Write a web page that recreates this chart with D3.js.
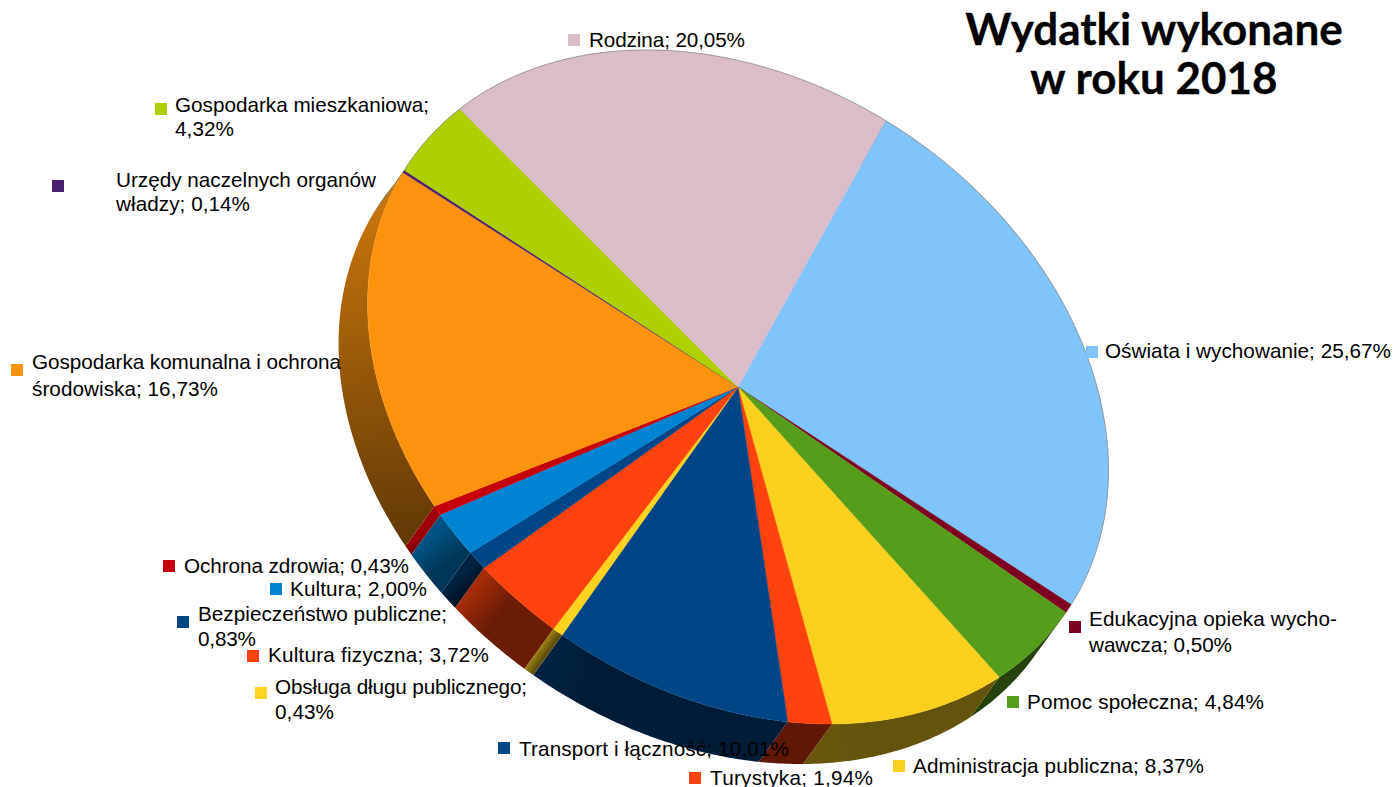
<!DOCTYPE html>
<html>
<head>
<meta charset="utf-8">
<script src="https://cdn.jsdelivr.net/npm/d3@7"></script>
<style>
html,body{margin:0;padding:0;background:#fff;overflow:hidden}
svg{display:block}
</style>
</head>
<body>
<svg id="chart" width="1395" height="787"></svg>
<script>
const categories = ["Oświata i wychowanie","Edukacyjna opieka wychowawcza","Pomoc społeczna","Administracja publiczna","Turystyka","Transport i łączność","Obsługa długu publicznego","Kultura fizyczna","Bezpieczeństwo publiczne","Kultura","Ochrona zdrowia","Gospodarka komunalna i ochrona środowiska","Urzędy naczelnych organów władzy","Gospodarka mieszkaniowa","Rodzina"];
const values = [25.67,0.50,4.84,8.37,1.94,10.01,0.43,3.72,0.83,2.00,0.43,16.73,0.14,4.32,20.05];
const colors = ["#7fc4fb","#7e0021","#579d1c","#f9d01e","#ff420e","#004586","#ffd320","#ff420e","#004586","#0084d1","#c5000b","#fc930f","#4b1f6f","#aecf00","#dbbdc9"];
const labelLines = [
 ["Oświata i wychowanie; 25,67%"],
 ["Edukacyjna opieka wycho-","wawcza; 0,50%"],
 ["Pomoc społeczna; 4,84%"],
 ["Administracja publiczna; 8,37%"],
 ["Turystyka; 1,94%"],
 ["Transport i łączność; 10,01%"],
 ["Obsługa długu publicznego;","0,43%"],
 ["Kultura fizyczna; 3,72%"],
 ["Bezpieczeństwo publiczne;","0,83%"],
 ["Kultura; 2,00%"],
 ["Ochrona zdrowia; 0,43%"],
 ["Gospodarka komunalna i ochrona","środowiska; 16,73%"],
 ["Urzędy naczelnych organów","władzy; 0,14%"],
 ["Gospodarka mieszkaniowa;","4,32%"],
 ["Rodzina; 20,05%"]
];
const titleLines = ["Wydatki wykonane","w roku 2018"];

// Layout only: [square centre x, square centre y, text x, first baseline, line step]
const labelLayout = [
 [1092,352,1105,358,0],[1075,627,1089,626,26],[1013,702,1027,709,0],[899,766,913,773,0],
 [695,778,710,785,0],[504,748,519,756,0],[261,693,275,694,25],[253,656,268,662,0],
 [183,622,198,621,25],[276,589,290,596,0],[169,566,184,573,0],[17,370,32,369,27],
 [58,186,116,187,24],[161,109,175,112,24],[574,40,589,47,0]
];
// Layout only: right end of each text line
const labelEnds = [[1391],[1337,1232],[1264],[1204],[873],[789],[527,334],[489],[447,256],[427],[409],[341,218],[376,250],[429,234],[745]];

const cx = 738, cy = 387, rx = 398, ry = 304, tilt = 34.5 * Math.PI / 180;
const depthX = -29, depthY = 40;
const startPhase = 265.8 * Math.PI / 180;

const svg = d3.select("#chart");
const defs = svg.append("defs");
const pie = d3.pie().sort(null).value(d => d);
const arcs = pie(values);

function project(phi, dx = 0, dy = 0) {
  const t = phi + startPhase;
  const u = rx * Math.cos(t), v = ry * Math.sin(t);
  return [cx + dx + u * Math.cos(tilt) - v * Math.sin(tilt),
          cy + dy + u * Math.sin(tilt) + v * Math.cos(tilt)];
}
function samples(a0, a1) {
  const n = Math.max(2, Math.ceil((a1 - a0) / 0.01));
  return d3.range(n + 1).map(i => a0 + (a1 - a0) * i / n);
}
const line = d3.line();
function shade(col, f) {
  const c = d3.rgb(col);
  return d3.rgb(c.r * f, c.g * f, c.b * f).formatHex();
}

// side walls
const wallLight = [0.62,0.6,0.42,0.42,0.37,0.5,0.62,0.66,0.5,0.62,0.8,0.78,0.5,0.6,0.6];
const wallDark  = [0.4,0.4,0.42,0.4,0.37,0.42,0.38,0.42,0.3,0.42,0.6,0.38,0.4,0.4,0.4];
const wallStop  = [0.5,0.5,0.5,0.5,0.5,0.2,0.8,0.4,0.7,0.6,0.7,1,0.5,0.5,0.5];
arcs.forEach((d, i) => {
  const pts = samples(d.startAngle, d.endAngle);
  const p0 = project(d.startAngle, depthX, depthY), p1 = project(d.endAngle, depthX, depthY);
  const g = defs.append("linearGradient").attr("id", "w" + i)
    .attr("gradientUnits", "userSpaceOnUse")
    .attr("x1", p1[0]).attr("y1", p1[1]).attr("x2", p0[0]).attr("y2", p0[1]);
  g.append("stop").attr("offset", 0).attr("stop-color", shade(colors[i], wallLight[i]));
  g.append("stop").attr("offset", wallStop[i]).attr("stop-color", shade(colors[i], wallDark[i]));
  const poly = pts.map(a => project(a)).concat(pts.slice().reverse().map(a => project(a, depthX, depthY)));
  svg.append("path").attr("d", line(poly) + "Z").attr("fill", `url(#w${i})`);
});

// top faces
arcs.forEach((d, i) => {
  const poly = [[cx, cy]].concat(samples(d.startAngle, d.endAngle).map(a => project(a)));
  svg.append("path").attr("d", line(poly) + "Z")
    .attr("fill", colors[i]).attr("stroke", colors[i]).attr("stroke-width", 0.4);
});

// faint rim on the exposed upper edge
[0, 13, 14].forEach(i => {
  const d = arcs[i];
  svg.append("path").attr("d", line(samples(d.startAngle, d.endAngle).map(a => project(a))))
    .attr("fill", "none").attr("stroke", "#9a9a9a").attr("stroke-width", 0.9);
});

// labels
arcs.forEach((d, i) => {
  const [sx, sy, tx, ty, step] = labelLayout[i];
  svg.append("rect").attr("x", sx - 6).attr("y", sy - 6).attr("width", 12).attr("height", 12)
    .attr("fill", colors[i]);
  labelLines[i].forEach((s, k) => {
    svg.append("text").attr("x", tx).attr("y", ty + k * step)
      .attr("font-family", "'Liberation Sans',Arial,sans-serif").attr("font-size", 20.7)
      .attr("textLength", labelEnds[i][k] - tx).attr("lengthAdjust", "spacing")
      .attr("fill", "#000").text(s);
  });
});

// title
titleLines.forEach((s, k) => {
  svg.append("text").attr("x", 1154).attr("y", 45 + k * 49).attr("text-anchor", "middle")
    .attr("font-family", "Lato,'Open Sans',sans-serif").attr("font-weight", 700)
    .attr("font-size", 44).attr("fill", "#000").attr("stroke", "#000").attr("stroke-width", 0.3).text(s);
});
</script>
</body>
</html>
